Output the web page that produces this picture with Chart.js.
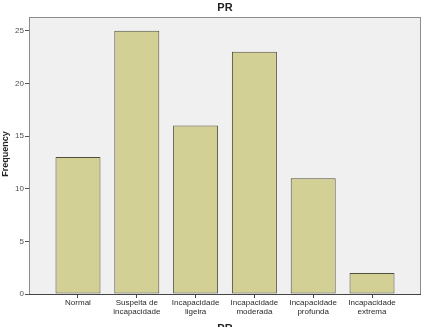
<!DOCTYPE html>
<html><head><meta charset="utf-8">
<script src="https://cdn.jsdelivr.net/npm/chart.js@4"></script>
<style>html,body{margin:0;padding:0;background:#fff}#wrap{width:423px;height:327px}</style>
</head><body><div id="wrap"><canvas id="c" width="423" height="327"></canvas></div>
<script>
const categories = [["Normal"],["Suspeita de","incapacidade"],["Incapacidade","ligeira"],["Incapacidade","moderada"],["Incapacidade","profunda"],["Incapacidade","extrema"]];
const frequencies = [13, 25, 16, 23, 11, 2];
const yTicks = [0, 5, 10, 15, 20, 25];
const chartTitle = "PR";
const xTitle = "PR";
const yTitle = "Frequency";

const points = frequencies.map((v, i) => ({x: i, y: v}));

const framePlugin = {
  id: 'frame',
  beforeDraw(chart) {
    const {ctx, chartArea: a} = chart;
    ctx.save();
    ctx.fillStyle = '#f0f0f0';
    ctx.fillRect(a.left, a.top, a.right - a.left, a.bottom - a.top);
    ctx.restore();
  },
  afterDraw(chart) {
    const {ctx, chartArea: a} = chart;
    ctx.save();
    ctx.strokeStyle = '#8c8c8c';
    ctx.lineWidth = 1;
    ctx.strokeRect(a.left + 0.5, a.top + 0.5, a.right - a.left - 1, a.bottom - a.top);
    ctx.strokeStyle = '#444';
    ctx.beginPath(); ctx.moveTo(a.left, a.bottom + 0.5); ctx.lineTo(a.right, a.bottom + 0.5); ctx.stroke();
    ctx.fillStyle = '#222';
    ctx.textAlign = 'center';
    ctx.textBaseline = 'middle';
    ctx.font = 'bold 11px "Liberation Sans", Arial, sans-serif';
    ctx.fillText(chartTitle, (a.left + a.right) / 2, 8);
    ctx.fillText(xTitle, (a.left + a.right) / 2, 329);
    ctx.translate(6, 154);
    ctx.rotate(-Math.PI / 2);
    ctx.font = 'bold 9px "Liberation Sans", Arial, sans-serif';
    ctx.fillText(yTitle, 0, 0);
    ctx.restore();
  }
};

new Chart(document.getElementById('c'), {
  type: 'bar',
  data: { datasets: [{ data: points, backgroundColor: '#d3d096', borderColor: '#4f4f3c', borderWidth: 1, borderSkipped: false, barPercentage: 0.765, categoryPercentage: 1 }] },
  options: {
    responsive: false, animation: false,
    layout: { padding: { top: 17, right: 2, left: 0, bottom: 0 } },
    plugins: { legend: { display: false }, tooltip: { enabled: false }, title: { display: false } },
    scales: {
      x: {
        type: 'linear', min: -0.833, max: 5.833, offset: false,
        afterFit(s) { s.height = 33; },
        afterBuildTicks(s) { s.ticks = categories.map((c, i) => ({value: i})); },
        ticks: { autoSkip: false, maxRotation: 0, padding: 1, color: '#2a2a2a', font: { size: 8, lineHeight: 1.05, family: '"Liberation Sans", Arial, sans-serif' }, callback: (v) => categories[v] },
        grid: { display: true, offset: false, drawOnChartArea: false, tickLength: 4, color: '#444' },
        border: { display: false }
      },
      y: {
        min: 0, max: 26.3,
        afterFit(s) { s.width = 29; },
        afterBuildTicks(s) { s.ticks = yTicks.map(v => ({value: v})); },
        ticks: { padding: 1, color: '#505050', font: { size: 8, family: '"Liberation Sans", Arial, sans-serif' } },
        grid: { display: true, drawOnChartArea: false, tickLength: 4, color: '#555' },
        border: { display: false }
      }
    }
  },
  plugins: [framePlugin]
});
</script></body></html>
